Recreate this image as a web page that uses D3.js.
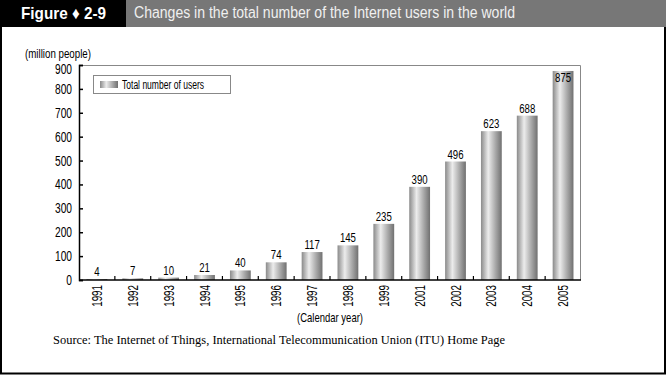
<!DOCTYPE html>
<html>
<head>
<meta charset="utf-8">
<script src="https://cdn.jsdelivr.net/npm/d3@7"></script>
<style>
  body { margin: 0; background: #fff; }
  text { font-family: "Liberation Sans", Arial, sans-serif; }
</style>
</head>
<body>
<div id="chart"></div>
<script>
var years = ["1991", "1992", "1993", "1994", "1995", "1996", "1997", "1998", "1999", "2001", "2002", "2003", "2004", "2005"];
var users = [4, 7, 10, 21, 40, 74, 117, 145, 235, 390, 496, 623, 688, 875];
var yTicks = [0, 100, 200, 300, 400, 500, 600, 700, 800, 900];

var W = 666, H = 375;
var margin = { left: 79, right: 85, top: 65, bottom: 95 };
var width = W - margin.left - margin.right;
var height = H - margin.top - margin.bottom;

// squeeze text horizontally (the original uses a narrow face)
function condense(sel, f) {
    sel.each(function () {
        var len = this.getComputedTextLength();
        d3.select(this)
            .attr("textLength", len * f)
            .attr("lengthAdjust", "spacingAndGlyphs");
    });
}

var svg = d3.select("#chart").append("svg")
    .attr("width", W)
    .attr("height", H);

// bar gradient (cylinder look)
var grad = svg.append("defs").append("linearGradient")
    .attr("id", "barGrad")
    .attr("x1", "0%").attr("x2", "100%").attr("y1", "0%").attr("y2", "0%");
grad.append("stop").attr("offset", "0%").attr("stop-color", "#8a8a8a");
grad.append("stop").attr("offset", "35%").attr("stop-color", "#ececec");
grad.append("stop").attr("offset", "70%").attr("stop-color", "#a8a8a8");
grad.append("stop").attr("offset", "100%").attr("stop-color", "#707070");

// outer frame
svg.append("rect")
    .attr("x", 1).attr("y", 1)
    .attr("width", W - 2).attr("height", H - 2.5)
    .attr("fill", "none").attr("stroke", "#000").attr("stroke-width", 2);

// header
svg.append("rect").attr("x", 0).attr("y", 0).attr("width", 126).attr("height", 27).attr("fill", "#000");
svg.append("rect").attr("x", 126).attr("y", 0).attr("width", W - 126).attr("height", 27).attr("fill", "#777");
svg.append("text")
    .attr("x", 21).attr("y", 19)
    .attr("fill", "#fff")
    .attr("font-size", "17px")
    .attr("font-weight", "bold")
    .attr("textLength", 85)
    .attr("lengthAdjust", "spacingAndGlyphs")
    .text("Figure \u2666 2-9");
svg.append("text")
    .attr("x", 134).attr("y", 18)
    .attr("fill", "#f0f0f0")
    .attr("font-size", "16px")
    .attr("textLength", 381)
    .attr("lengthAdjust", "spacingAndGlyphs")
    .text("Changes in the total number of the Internet users in the world");

var g = svg.append("g")
    .attr("transform", "translate(" + margin.left + "," + margin.top + ")");

var x = d3.scaleBand()
    .domain(years)
    .range([0, width])
    .paddingInner(0.42)
    .paddingOuter(0.21);

var y = d3.scaleLinear()
    .domain([0, 900])
    .range([height, 0]);

// plot box top / right
g.append("path")
    .attr("d", "M0,0.5H" + (width - 0.5) + "V" + height)
    .attr("fill", "none")
    .attr("stroke", "#888")
    .attr("stroke-width", 1);

// bars
g.selectAll("rect.bar")
    .data(users)
    .enter()
    .append("rect")
    .attr("class", "bar")
    .attr("x", function (d, i) { return x(years[i]); })
    .attr("y", function (d) { return y(d); })
    .attr("width", x.bandwidth())
    .attr("height", function (d) { return height - y(d); })
    .attr("fill", "url(#barGrad)");

// value labels (inside the bar top when there is no room above)
var vals = g.selectAll("text.val")
    .data(users)
    .enter()
    .append("text")
    .attr("class", "val")
    .attr("x", function (d, i) { return x(years[i]) + x.bandwidth() / 2; })
    .attr("y", function (d) {
        return y(d) - 13 < 0 ? y(d) + 11 : y(d) - 3;
    })
    .attr("text-anchor", "middle")
    .attr("font-size", "13px")
    .attr("fill", "#000")
    .text(function (d) { return d; });
condense(vals, 0.74);

// y axis
var yAxis = d3.axisLeft(y)
    .tickValues(yTicks)
    .tickSize(-4)
    .tickPadding(7);
var ya = g.append("g").attr("class", "y-axis").call(yAxis);
ya.select(".domain").attr("stroke", "#000").attr("stroke-width", 1.5);
ya.selectAll(".tick line").attr("stroke", "#000").attr("stroke-width", 1.5);
ya.selectAll("text")
    .attr("font-size", "14px")
    .attr("font-family", null)
    .attr("fill", "#000");
condense(ya.selectAll("text"), 0.73);
// top label sits a little lower, as in the original
ya.selectAll(".tick").filter(function (d) { return d === 900; })
    .select("text").attr("dy", "0.6em");

// x axis: ticks between categories
var xa = g.append("g")
    .attr("class", "x-axis")
    .attr("transform", "translate(0," + height + ")");
xa.append("line")
    .attr("x1", 0).attr("x2", width)
    .attr("stroke", "#000").attr("stroke-width", 1.5);
xa.selectAll("line.sep")
    .data(years.slice(1))
    .enter()
    .append("line")
    .attr("class", "sep")
    .attr("x1", function (d) { return x(d) - x.step() * x.paddingInner() / 2; })
    .attr("x2", function (d) { return x(d) - x.step() * x.paddingInner() / 2; })
    .attr("y1", 0).attr("y2", -4)
    .attr("stroke", "#000").attr("stroke-width", 1.2);
var yrs = xa.selectAll("text.yr")
    .data(years)
    .enter()
    .append("text")
    .attr("class", "yr")
    .attr("transform", function (d) {
        return "translate(" + (x(d) + x.bandwidth() / 2 + 5) + ",5) rotate(-90)";
    })
    .attr("text-anchor", "end")
    .attr("font-size", "14px")
    .attr("fill", "#000")
    .text(function (d) { return d; });
condense(yrs, 0.7);

// axis titles
svg.append("text")
    .attr("x", 25).attr("y", 58)
    .attr("font-size", "12.5px")
    .attr("textLength", 66)
    .attr("lengthAdjust", "spacingAndGlyphs")
    .text("(million people)");
svg.append("text")
    .attr("x", margin.left + width / 2).attr("y", 322)
    .attr("text-anchor", "middle")
    .attr("font-size", "13px")
    .attr("textLength", 66)
    .attr("lengthAdjust", "spacingAndGlyphs")
    .text("(Calendar year)");

// legend
var lg = g.append("g").attr("transform", "translate(14,10)");
lg.append("rect")
    .attr("x", 0.5).attr("y", 0.5)
    .attr("width", 137).attr("height", 18)
    .attr("fill", "#fff").attr("stroke", "#888");
lg.append("rect")
    .attr("x", 7).attr("y", 6)
    .attr("width", 18).attr("height", 7)
    .attr("fill", "url(#barGrad)");
lg.append("text")
    .attr("x", 29).attr("y", 13.5)
    .attr("font-size", "12px")
    .attr("textLength", 82)
    .attr("lengthAdjust", "spacingAndGlyphs")
    .text("Total number of users");

// source
svg.append("text")
    .attr("x", 53).attr("y", 344)
    .style("font-family", "'Liberation Serif', 'Times New Roman', serif")
    .attr("font-size", "13px")
    .attr("textLength", 452)
    .attr("lengthAdjust", "spacingAndGlyphs")
    .text("Source: The Internet of Things, International Telecommunication Union (ITU) Home Page");
</script>
</body>
</html>
